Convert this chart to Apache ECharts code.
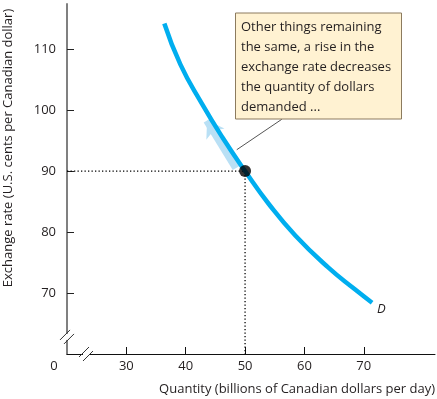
<!DOCTYPE html>
<html>
<head>
<meta charset="utf-8">
<script src="https://cdn.jsdelivr.net/npm/echarts@6/dist/echarts.min.js"></script>
<style>
  html, body { margin: 0; padding: 0; background: #fff; }
  #chart { width: 437px; height: 399px; }
</style>
</head>
<body>
<div id="chart"></div>
<script>
// demand curve D
var demandQty  = [36.4, 39.1, 42.7, 46.2, 50, 54, 58.5, 64, 68.5, 71.4];
var demandRate = [114.2, 107.5, 101.1, 95.5, 90, 84.6, 79.4, 74.2, 70.6, 68.4];
var equilibrium = [50, 90];
var xTicks = [30, 40, 50, 60, 70];
var yTicks = [70, 80, 90, 100, 110];
var arrowFrom = [48.5, 90.5];
var arrowTo = [43.6, 98.3];
var leaderLine = [[48.6, 93.5], [56.2, 98.5]];
var noteLines = [
  'Other things remaining',
  'the same, a rise in the',
  'exchange rate decreases',
  'the quantity of dollars',
  'demanded ...'
];

var font = 'Open Sans';
var ink = '#231f20';

var chart = echarts.init(document.getElementById('chart'));

var demandData = demandQty.map(function (q, i) { return [q, demandRate[i]]; });

chart.setOption({
  animation: false,
  backgroundColor: '#fff',
  grid: { left: 67, right: 2, top: 4, bottom: 45, outerBoundsMode: 'none', containLabel: false },
  xAxis: {
    type: 'value',
    min: 20,
    max: 82,
    name: 'Quantity (billions of Canadian dollars per day)',
    nameLocation: 'end',
    nameGap: 0,
    nameTextStyle: {
      fontFamily: font, fontSize: 13, color: ink,
      align: 'right', verticalAlign: 'top', padding: [29, 0, 0, 0]
    },
    axisLine: { lineStyle: { color: '#111', width: 1 } },
    axisTick: { inside: true, length: 7, customValues: xTicks, lineStyle: { color: '#111' } },
    axisLabel: {
      customValues: [20].concat(xTicks),
      margin: 6,
      fontFamily: font, fontSize: 13, color: ink,
      formatter: function (v) { return v === 20 ? '{z|0}' : String(v); },
      rich: { z: { fontFamily: font, fontSize: 13, color: ink, padding: [0, 26, 0, 0] } }
    },
    splitLine: { show: false }
  },
  yAxis: {
    type: 'value',
    min: 60,
    max: 117.4,
    name: 'Exchange rate (U.S. cents per Canadian dollar)',
    nameLocation: 'middle',
    nameRotate: 90,
    nameGap: 52,
    nameTextStyle: { fontFamily: font, fontSize: 13, color: ink, padding: [0, 0, 0, 62] },
    axisLine: { lineStyle: { color: '#808080', width: 2 } },
    axisTick: { inside: true, length: 7, customValues: yTicks, lineStyle: { color: '#222' } },
    axisLabel: { customValues: yTicks, margin: 11, fontFamily: font, fontSize: 13, color: ink },
    splitLine: { show: false }
  },
  series: [
    {
      // dotted guides to the axes
      type: 'line',
      data: [[20, equilibrium[1]], equilibrium, [equilibrium[0], 60]],
      symbol: 'none',
      silent: true,
      z: 1,
      lineStyle: { color: '#000', width: 1.3, type: [1.3, 2.2] }
    },
    {
      // movement along the curve
      type: 'lines',
      coordinateSystem: 'cartesian2d',
      data: [{ coords: [arrowFrom, arrowTo] }],
      symbol: ['none', 'arrow'],
      symbolSize: [19, 16],
      silent: true,
      z: 1,
      lineStyle: { color: '#b9e0f5', width: 8, opacity: 1, curveness: 0 }
    },
    {
      type: 'line',
      data: demandData,
      smooth: true,
      symbol: 'none',
      z: 3,
      lineStyle: { color: '#00aeef', width: 4.5, cap: 'butt' },
      endLabel: {
        show: true,
        formatter: 'D',
        fontFamily: font, fontSize: 13, fontStyle: 'italic', color: ink,
        distance: 5,
        offset: [0, 7]
      }
    },
    {
      // leader from the note
      type: 'line',
      data: leaderLine,
      symbol: 'none',
      silent: true,
      z: 2,
      lineStyle: { color: '#555', width: 1 }
    },
    {
      type: 'scatter',
      data: [equilibrium],
      symbolSize: 12,
      z: 5,
      itemStyle: { color: '#000' }
    }
  ]
});

// note box and axis break marks
var yb = chart.convertToPixel({ gridIndex: 0 }, [20, 62.8]);
var xb = chart.convertToPixel({ gridIndex: 0 }, [23.2, 60]);

function slashes(cx, cy) {
  return [
    { type: 'rect', shape: { x: cx - 3, y: cy - 3, width: 6, height: 6 }, style: { fill: '#fff' }, z: 10 },
    { type: 'line', shape: { x1: cx - 7, y1: cy + 3, x2: cx + 3, y2: cy - 7 }, style: { stroke: '#333', lineWidth: 1 }, z: 11 },
    { type: 'line', shape: { x1: cx - 3, y1: cy + 7, x2: cx + 7, y2: cy - 3 }, style: { stroke: '#333', lineWidth: 1 }, z: 11 }
  ];
}

chart.setOption({
  graphic: [
    {
      type: 'rect',
      shape: { x: 235.5, y: 13, width: 166, height: 106 },
      style: { fill: '#fff2d2', stroke: '#8c7b5e', lineWidth: 1 },
      z: 10
    },
    {
      type: 'text',
      x: 241, y: 17,
      style: {
        text: noteLines.join('\n'),
        fontFamily: font, fontSize: 13, lineHeight: 20, fill: ink
      },
      z: 11
    }
  ].concat(slashes(yb[0], yb[1]), slashes(xb[0], xb[1]))
});
</script>
</body>
</html>
